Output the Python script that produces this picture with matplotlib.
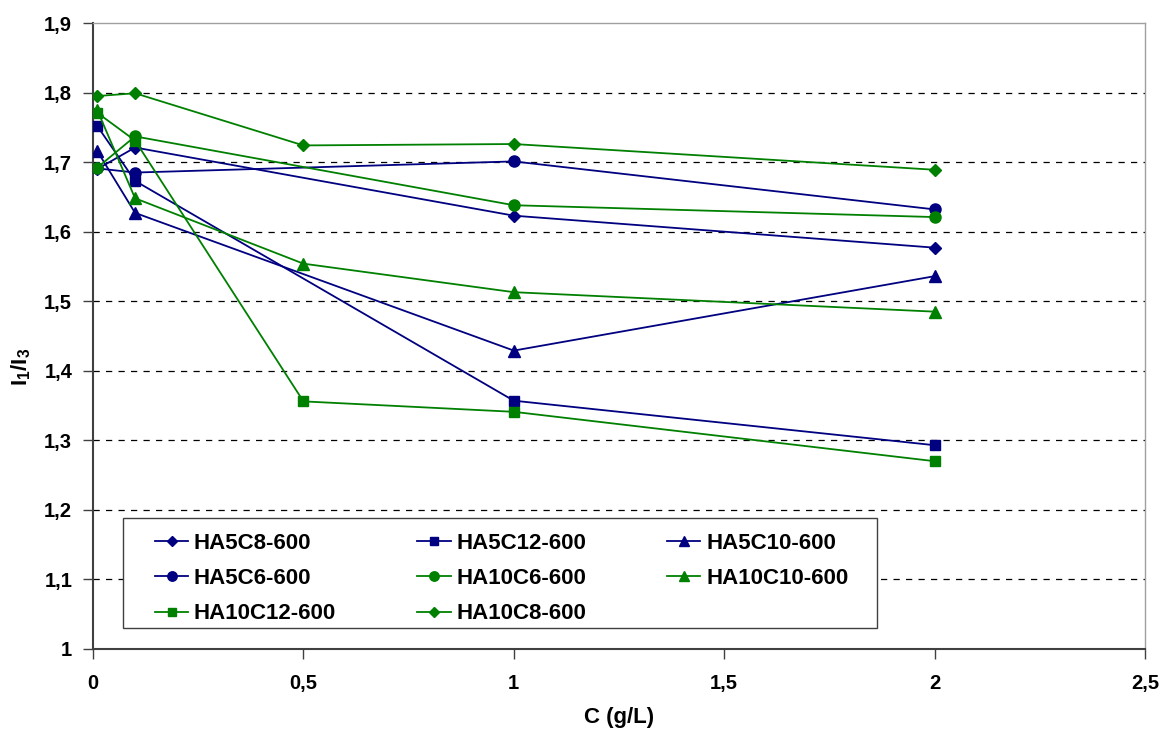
import matplotlib
matplotlib.use("Agg")
import matplotlib.pyplot as plt
from matplotlib.patches import Rectangle

plt.rcParams['font.family'] = ['Liberation Sans', 'DejaVu Sans']
plt.rcParams['font.weight'] = 'bold'
plt.rcParams['mathtext.fontset'] = 'custom'
plt.rcParams['mathtext.rm'] = 'Liberation Sans'
plt.rcParams['mathtext.bf'] = 'Liberation Sans:bold'
plt.rcParams['mathtext.it'] = 'Liberation Sans:italic'

x4 = [0.01, 0.1, 1, 2]
x5 = [0.01, 0.1, 0.5, 1, 2]

ha5c8 = [1.690, 1.721, 1.623, 1.577]
ha5c12 = [1.752, 1.673, 1.357, 1.293]
ha5c10 = [1.716, 1.627, 1.429, 1.536]
ha5c6 = [1.691, 1.685, 1.701, 1.632]
ha10c6 = [1.692, 1.737, 1.638, 1.621]
ha10c10 = [1.775, 1.648, 1.554, 1.513, 1.485]
ha10c12 = [1.771, 1.731, 1.356, 1.341, 1.270]
ha10c8 = [1.795, 1.799, 1.724, 1.726, 1.689]

NAVY = '#000080'
GREEN = '#008000'

series = [
    ('HA5C8-600', x4, ha5c8, NAVY, 'D', 6.5),
    ('HA5C12-600', x4, ha5c12, NAVY, 's', 7.5),
    ('HA5C10-600', x4, ha5c10, NAVY, '^', 8),
    ('HA5C6-600', x4, ha5c6, NAVY, 'o', 8),
    ('HA10C6-600', x4, ha10c6, GREEN, 'o', 8),
    ('HA10C10-600', x5, ha10c10, GREEN, '^', 8),
    ('HA10C12-600', x5, ha10c12, GREEN, 's', 7.5),
    ('HA10C8-600', x5, ha10c8, GREEN, 'D', 6.5),
]

W, H = 1163, 729
fig = plt.figure(figsize=(W / 100, H / 100), dpi=100)
ax = fig.add_axes([93 / W, 1 - 649 / H, (1145 - 93) / W, (649 - 23) / H])

ax.set_xlim(0, 2.5)
ax.set_ylim(1.0, 1.9)

yticks = [1, 1.1, 1.2, 1.3, 1.4, 1.5, 1.6, 1.7, 1.8, 1.9]
xticks = [0, 0.5, 1, 1.5, 2, 2.5]
for yv in yticks[1:-1]:
    ax.axhline(yv, color='black', lw=0.9, ls=(0, (5, 5)), zorder=1)

handles = []
for name, xs, ys, c, m, ms in series:
    h, = ax.plot(xs, ys, color=c, marker=m, ms=ms, lw=1.3, label=name, zorder=3,
                 markeredgecolor=c, markerfacecolor=c)
    handles.append(h)

ax.set_yticks(yticks)
ax.set_yticklabels(['1' if v == 1 else f'{v:.1f}'.replace('.', ',') for v in yticks])
ax.set_xticks(xticks)
ax.set_xticklabels(['0', '0,5', '1', '1,5', '2', '2,5'])
ax.tick_params(axis='both', direction='out', length=7, width=1, color='#404040',
               labelsize=14.5)
ax.tick_params(axis='x', pad=11)
ax.tick_params(axis='y', pad=8)
for lab in ax.get_xticklabels() + ax.get_yticklabels():
    lab.set_fontweight('bold')

for s in ['left', 'bottom']:
    ax.spines[s].set_color('#404040')
    ax.spines[s].set_linewidth(1.5)
for s in ['top', 'right']:
    ax.spines[s].set_color('#a0a0a0')
    ax.spines[s].set_linewidth(1.0)

ax.set_xlabel('C (g/L)', fontsize=16, fontweight='bold')
ax.xaxis.set_label_coords(0.5, -0.093)
ax.set_ylabel(r'$\mathbf{I_1/I_3}$', fontsize=16)
ax.yaxis.set_label_coords(-0.057, 0.45)

# legend frame
frame = Rectangle((123 / W, 1 - 628 / H), (877 - 123) / W, (628 - 518) / H,
                  transform=fig.transFigure, facecolor='white',
                  edgecolor='#404040', lw=1.0, zorder=4, clip_on=False)
ax.add_patch(frame)

order = [0, 3, 6, 1, 4, 7, 2, 5]
leg = ax.legend([handles[i] for i in order], [series[i][0] for i in order],
                loc='upper left', bbox_to_anchor=(155 / W, 1 - 533 / H),
                bbox_transform=fig.transFigure, ncol=3, fontsize=16,
                frameon=False, borderaxespad=0, borderpad=0,
                handlelength=1.5, handletextpad=0.25, columnspacing=3.65,
                labelspacing=0.64, markerscale=0.85)
leg.set_zorder(5)
for t in leg.get_texts():
    t.set_fontweight('bold')

fig.savefig('out.png', dpi=100)
